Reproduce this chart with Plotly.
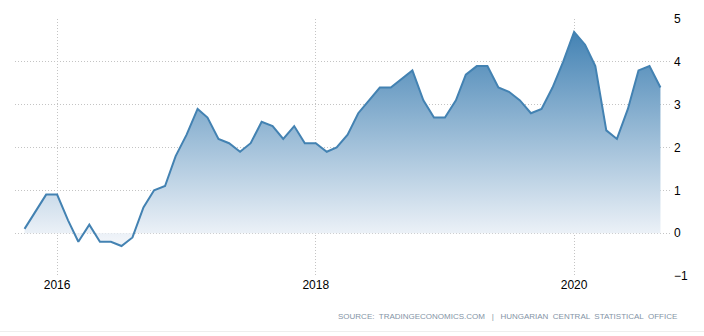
import plotly.graph_objects as go
import pandas as pd

start_month = "2015-10-01"
inflation = [
    0.1, 0.5, 0.9,                                              # 2015 Oct-Dec
    0.9, 0.3, -0.2, 0.2, -0.2, -0.2, -0.3, -0.1, 0.6, 1.0, 1.1, 1.8,  # 2016
    2.3, 2.9, 2.7, 2.2, 2.1, 1.9, 2.1, 2.6, 2.5, 2.2, 2.5, 2.1,      # 2017
    2.1, 1.9, 2.0, 2.3, 2.8, 3.1, 3.4, 3.4, 3.6, 3.8, 3.1, 2.7,      # 2018
    2.7, 3.1, 3.7, 3.9, 3.9, 3.4, 3.3, 3.1, 2.8, 2.9, 3.4, 4.0,      # 2019
    4.7, 4.4, 3.9, 2.4, 2.2, 2.9, 3.8, 3.9, 3.4,                     # 2020 Jan-Sep
]
dates = pd.date_range(start_month, periods=len(inflation), freq="MS")
x_tick_vals = ["2016-01-01", "2018-01-01", "2020-01-01"]
x_tick_text = ["2016", "2018", "2020"]
y_ticks = [-1, 0, 1, 2, 3, 4, 5]
source_text = "SOURCE:  TRADINGECONOMICS.COM   |   HUNGARIAN  CENTRAL  STATISTICAL  OFFICE"

fig = go.Figure()
fig.add_trace(go.Scatter(
    x=dates, y=inflation, mode="lines",
    line=dict(color="rgb(67,130,178)", width=2),
    fill="tozeroy",
    fillgradient=dict(
        type="vertical", start=0, stop=4.7,
        colorscale=[[0, "rgba(240,244,249,1)"], [1, "rgba(68,131,180,1)"]],
    ),
    hoverinfo="skip",
))

fig.update_layout(
    width=704, height=336,
    margin=dict(l=15, r=34, t=12, b=60),
    paper_bgcolor="white", plot_bgcolor="white",
    showlegend=False,
    font=dict(family="Liberation Sans, Arial, sans-serif", size=11, color="#000"),
    xaxis=dict(
        range=["2015-09-04", "2020-09-28"],
        tickvals=x_tick_vals, ticktext=x_tick_text,
        showgrid=True, gridcolor="#c4c4c4", griddash="1px,2px", gridwidth=1,
        zeroline=False, showline=False, ticks="",
        tickfont=dict(size=12),
    ),
    yaxis=dict(
        range=[-1, 5], side="right",
        tickvals=y_ticks,
        showgrid=True, gridcolor="#c4c4c4", griddash="1px,2px", gridwidth=1,
        zeroline=False, showline=False, ticks="", ticklabelstandoff=3,
        tickfont=dict(size=12),
    ),
    annotations=[dict(
        text=source_text, xref="paper", yref="paper",
        x=(679 - 15) / (704 - 15 - 34), y=-(318 - 276) / (336 - 12 - 60),
        xanchor="right", yanchor="middle", showarrow=False,
        font=dict(size=8, color="#8494a6", family="Liberation Sans, sans-serif"),
    )],
    shapes=[dict(type="line", xref="paper", yref="paper",
                 x0=-0.05, x1=1.1, y0=-(333 - 276) / 264, y1=-(333 - 276) / 264,
                 line=dict(color="#eeeeee", width=1))],
)

fig.write_html("out.html")
